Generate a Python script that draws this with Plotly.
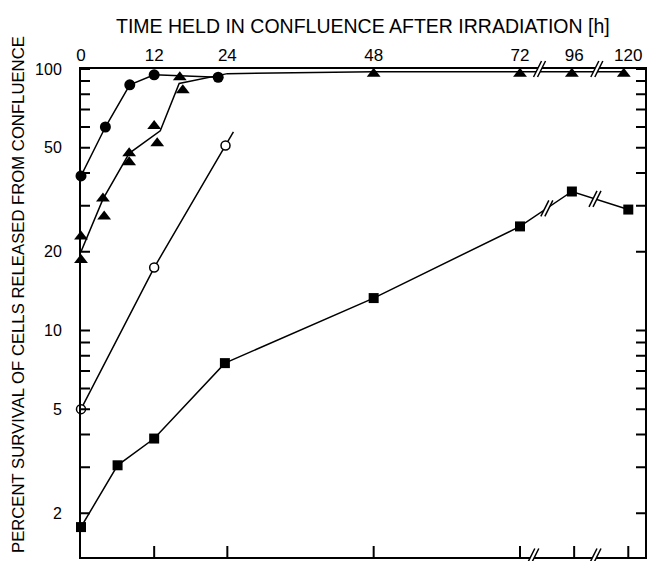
import numpy as np
import plotly.graph_objects as go

# ---------------- data (hours held in confluence, percent survival) ----------------
circ_t = [0, 4, 8, 12, 22.5]
circ_v = [39, 60, 87, 95, 93]

tri_t = [0, 0, 3.6, 3.8, 7.9, 7.9, 12, 12.5, 16.2, 16.7, 48, 72, 95, 118]
tri_v = [22.9, 18.6, 32, 27.3, 47.6, 44, 60.5, 52, 93, 83, 96, 96, 96, 96]

tri_line_t = [0, 3.6, 7.9, 13, 16.1, 24, 48, 72, 95, 118]
tri_line_v = [20, 31.8, 47.6, 58, 88, 96, 97.5, 97.5, 97.5, 97.5]

open_t = [0, 12, 23.7]
open_v = [5, 17.4, 51]
open_ext_t = [23.7, 25]
open_ext_v = [51, 57.5]

sq_t = [0, 6, 12, 23.6, 48, 72, 95, 120]
sq_v = [1.77, 3.05, 3.86, 7.5, 13.3, 25, 34, 29]

x_tick_hours = [0, 12, 24, 48, 72, 96, 120]
y_tick_vals = [2, 3, 4, 5, 6, 7, 8, 9, 10, 20, 30, 40, 50, 60, 70, 80, 90, 100]
y_tick_labels = {2: "2", 5: "5", 10: "10", 20: "20", 50: "50", 100: "100"}

X_TITLE = "TIME HELD IN CONFLUENCE AFTER IRRADIATION [h]"
Y_TITLE = "PERCENT SURVIVAL OF CELLS RELEASED FROM CONFLUENCE"

# ---------------- broken time axis: 72-96 and 96-120 are compressed ----------------
K = 0.37


def pos(t):
    if t <= 72:
        return t
    if t <= 96:
        return 72 + (t - 72) * K
    return 72 + 24 * K + (t - 96) * K


def P(ts):
    return [pos(t) for t in ts]


X_RANGE = [0, 92.5]
Y_RANGE = [np.log10(1.36), 2.0]
FONT = "Liberation Sans, Arial, sans-serif"
PLOT_W = 564  # plot-area width in px


def paper_y(v):
    return (np.log10(v) - Y_RANGE[0]) / (Y_RANGE[1] - Y_RANGE[0])


def line_y_at(p, ts, vs):
    return 10 ** np.interp(p, P(ts), np.log10(vs))


fig = go.Figure()
line = dict(color="black", width=1.5)

fig.add_trace(go.Scatter(x=P(tri_line_t), y=tri_line_v, mode="lines", line=line,
                         cliponaxis=False, showlegend=False))
fig.add_trace(go.Scatter(x=P(circ_t), y=circ_v, mode="lines+markers", line=line,
                         marker=dict(symbol="circle", size=11, color="black"),
                         cliponaxis=False, showlegend=False))
fig.add_trace(go.Scatter(x=P(tri_t), y=tri_v, mode="markers",
                         marker=dict(symbol="triangle-up", size=12, color="black"),
                         cliponaxis=False, showlegend=False))
fig.add_trace(go.Scatter(x=P(open_ext_t), y=open_ext_v, mode="lines", line=line,
                         cliponaxis=False, showlegend=False))
fig.add_trace(go.Scatter(x=P(open_t), y=open_v, mode="lines+markers", line=line,
                         marker=dict(symbol="circle", size=9, color="white",
                                     line=dict(color="black", width=1.5)),
                         cliponaxis=False, showlegend=False))
fig.add_trace(go.Scatter(x=P(sq_t), y=sq_v, mode="lines+markers", line=line,
                         marker=dict(symbol="square", size=10, color="black"),
                         cliponaxis=False, showlegend=False))

shapes = []
tick_line = dict(color="black", width=2)

# bottom-edge tick marks of the time axis (inside, no labels)
for t in x_tick_hours[1:]:
    shapes.append(dict(type="line", xref="x", yref="paper", xsizemode="pixel",
                       ysizemode="pixel", xanchor=pos(t), yanchor=0,
                       x0=0, x1=0, y0=0, y1=11, line=tick_line))

# inside tick marks on the left and right edges of the log axis,
# drawn as one path per side in plot-fraction coordinates
tick_frac = 9 / PLOT_W
left_path = " ".join(f"M 0,{paper_y(v):.5f} L {tick_frac:.5f},{paper_y(v):.5f}"
                     for v in y_tick_vals)
right_path = " ".join(f"M {1 - tick_frac:.5f},{paper_y(v):.5f} L 1,{paper_y(v):.5f}"
                      for v in y_tick_vals)
for pth in (left_path, right_path):
    shapes.append(dict(type="path", xref="paper", yref="paper", path=pth,
                       line=tick_line, layer="above"))

# ---------------- break marks ("//") ----------------
breaks = [(75.2, 1.0), (84.6, 1.0), (74.1, 0.001), (84.3, 0.001),
          (76.4, paper_y(line_y_at(76.4, sq_t, sq_v))),
          (84.3, paper_y(line_y_at(84.3, sq_t, sq_v)))]
for bx, by in breaks:
    common = dict(xref="x", yref="paper", xsizemode="pixel", ysizemode="pixel",
                  xanchor=bx, yanchor=by)
    shapes.append(dict(type="path", path="M -6,-8 L 2,8 L 6,8 L -2,-8 Z",
                       fillcolor="white", line=dict(width=0), **common))
    shapes.append(dict(type="path", path="M -6,-8 L 2,8 M -2,-8 L 6,8",
                       line=dict(color="black", width=1.5), **common))

fig.update_layout(
    width=647, height=561,
    margin=dict(l=81, r=2, t=69, b=4, autoexpand=False),
    paper_bgcolor="white", plot_bgcolor="white",
    font=dict(family=FONT, color="black", size=15),
    xaxis=dict(range=X_RANGE, side="top", showline=True, mirror=True,
               linewidth=2, linecolor="black", ticks="",
               tickvals=P(x_tick_hours), ticktext=[str(t) for t in x_tick_hours],
               tickfont=dict(size=17, family=FONT), ticklabelstandoff=-1,
               automargin=False, showgrid=False, zeroline=False),
    yaxis=dict(type="log", range=Y_RANGE, showline=True, mirror=True,
               linewidth=2, linecolor="black", ticks="",
               tickvals=y_tick_vals,
               ticktext=[y_tick_labels.get(v, "") for v in y_tick_vals],
               tickfont=dict(size=16, family=FONT), ticklabelstandoff=14,
               automargin=False, showgrid=False, zeroline=False),
    shapes=shapes,
    annotations=[
        dict(text=X_TITLE, xref="paper", yref="paper", x=0.5, y=1 + (69 - 26) / 488,
             xanchor="center", yanchor="middle", showarrow=False,
             font=dict(size=19.5, family=FONT)),
        dict(text=Y_TITLE, xref="paper", yref="paper", x=(18 - 81) / 564,
             y=(557 - 295) / 488, xanchor="center", yanchor="middle",
             textangle=-90, showarrow=False, font=dict(size=16.7, family=FONT)),
    ],
)

# remove the default page margin so the 647x561 figure fills the window exactly
fig.write_html("out.html",
               config={"displayModeBar": False},
               post_script="document.body.style.margin='0';"
                           "document.body.style.overflow='hidden';")
